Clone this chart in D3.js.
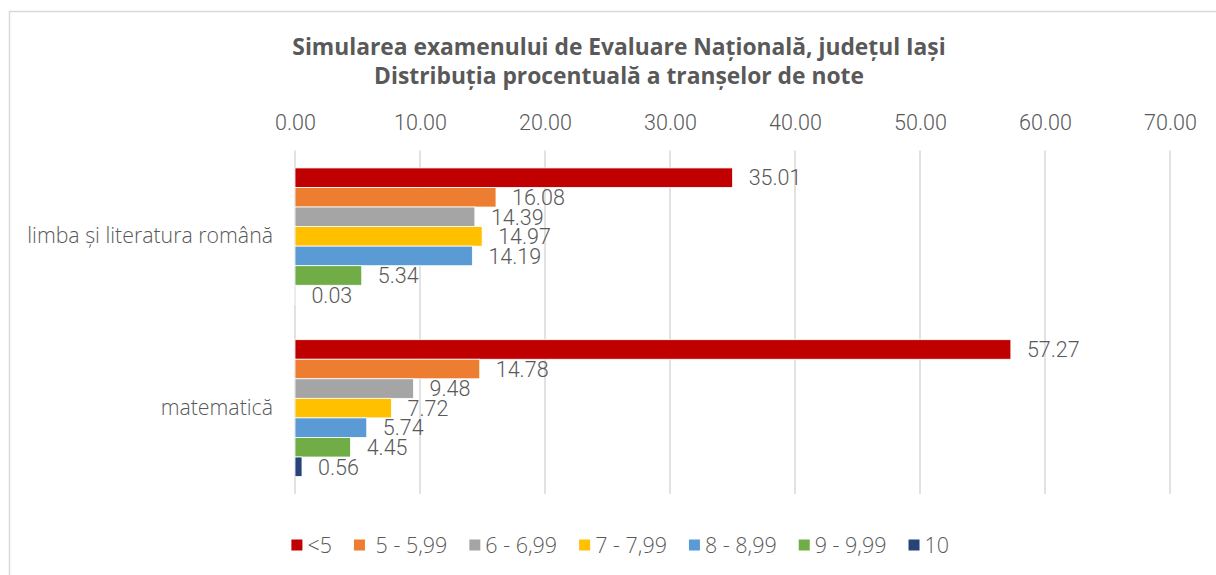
<!DOCTYPE html>
<html>
<head>
<meta charset="utf-8">
<script src="https://cdn.jsdelivr.net/npm/d3@7"></script>
<style>
  html, body { margin: 0; padding: 0; background: #fff; }
  svg { display: block; }
</style>
</head>
<body>
<svg id="chart" width="1216" height="575"></svg>
<script>
const titleLines = ["Simularea examenului de Evaluare Națională, județul Iași",
                    "Distribuția procentuală a tranșelor de note"];
const categories = ["limba și literatura română", "matematică"];
const seriesNames = ["<5", " 5 - 5,99", "6 - 6,99", "7 - 7,99", "8 - 8,99", "9 - 9,99", "10"];
const seriesColors = ["#C00000", "#ED7D31", "#A5A5A5", "#FFC000", "#5B9BD5", "#70AD47", "#264478"];
const valuesRomana = [35.01, 16.08, 14.39, 14.97, 14.19, 5.34, 0.03];
const valuesMate = [57.27, 14.78, 9.48, 7.72, 5.74, 4.45, 0.56];
const xTicks = [0, 10, 20, 30, 40, 50, 60, 70];

const values = [valuesRomana, valuesMate];
const FONT = "Roboto, 'Noto Sans', sans-serif";
const FONT2 = "'Open Sans', 'Noto Sans', sans-serif";
const TXT = "#595959";

const svg = d3.select("#chart");

// chart border
svg.append("rect").attr("x", 9.5).attr("y", 11.5).attr("width", 1240).attr("height", 620)
  .attr("fill", "#fff").attr("stroke", "#d9d9d9").attr("stroke-width", 1.5);

const plot = {left: 295, right: 1170, top: 150.5, bottom: 494};

const x = d3.scaleLinear().domain([0, 70]).range([plot.left, plot.right]);
const y0 = d3.scaleBand().domain(categories).range([plot.top, plot.bottom]).paddingInner(0.203).paddingOuter(0.1015);
const y1 = d3.scaleBand().domain(d3.range(seriesNames.length)).range([0, y0.bandwidth()]);

// title
svg.append("text").attr("x", 619).attr("y", 55).attr("text-anchor", "middle")
  .attr("font-family", FONT2).attr("font-weight", 700)
  .attr("font-size", 22.8).attr("fill", TXT)
  .selectAll("tspan").data(titleLines).join("tspan")
  .attr("x", 619).attr("dy", (d, i) => i === 0 ? 0 : 29).text(d => d);

// gridlines
svg.append("g").selectAll("line").data(xTicks).join("line")
  .attr("x1", d => x(d)).attr("x2", d => x(d))
  .attr("y1", plot.top).attr("y2", plot.bottom)
  .attr("stroke", "#d9d9d9").attr("stroke-width", 1.5);

// top axis
const xAxis = d3.axisTop(x).tickValues(xTicks).tickFormat(d3.format(".2f")).tickSize(0).tickPadding(0);
const gx = svg.append("g").attr("transform", `translate(0,${130})`).call(xAxis);
gx.select(".domain").remove();
gx.selectAll("text").attr("font-family", FONT).attr("font-size", 21.5).attr("font-weight", 300)
  .attr("fill", TXT).attr("dy", 0);

// category axis
const yAxis = d3.axisLeft(y0).tickSize(0).tickPadding(22);
const gy = svg.append("g").attr("transform", `translate(${plot.left},0)`).call(yAxis);
gy.select(".domain").remove();
gy.selectAll("text").attr("font-family", FONT2).attr("font-size", 21.3).attr("font-weight", 300)
  .attr("fill", TXT);

// bars
const groups = svg.append("g").selectAll("g").data(categories).join("g")
  .attr("transform", d => `translate(0,${y0(d)})`);

groups.selectAll("rect").data((c, ci) => values[ci].map((v, si) => ({v, si})))
  .join("rect")
  .attr("x", x(0))
  .attr("y", d => y1(d.si))
  .attr("width", d => x(d.v) - x(0))
  .attr("height", y1.bandwidth())
  .attr("fill", d => seriesColors[d.si])
  .attr("stroke", "#fff").attr("stroke-width", 0.8);

groups.selectAll("text").data((c, ci) => values[ci].map((v, si) => ({v, si})))
  .join("text")
  .attr("x", d => x(d.v) + 16)
  .attr("y", d => y1(d.si) + y1.bandwidth() / 2)
  .attr("dy", "0.36em")
  .attr("font-family", FONT).attr("font-size", 21.5).attr("font-weight", 300)
  .attr("fill", TXT)
  .text(d => d3.format(".2f")(d.v));

// legend
const legend = svg.append("g").attr("transform", "translate(291.4,545)");
let lx = 0;
seriesNames.forEach((name, i) => {
  const g = legend.append("g").attr("transform", `translate(${lx},0)`);
  g.append("rect").attr("x", 0).attr("y", -5.5).attr("width", 11).attr("height", 11)
    .attr("fill", seriesColors[i]);
  const t = g.append("text").attr("x", 16).attr("y", 0).attr("dy", "0.36em")
    .attr("font-family", FONT2).attr("font-size", 21.5).attr("font-weight", 300)
    .attr("fill", TXT).attr("xml:space", "preserve").style("white-space", "pre").text(name);
  const w = t.node().getComputedTextLength();
  lx += 16 + w + 22;
});
</script>
</body>
</html>
